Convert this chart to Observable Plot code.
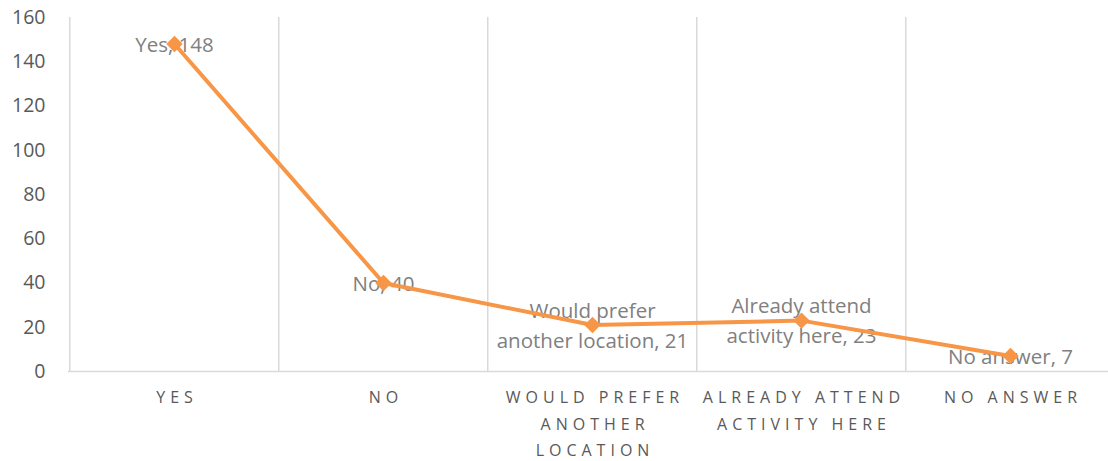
<!DOCTYPE html>
<html>
<head>
<meta charset="utf-8">
<script src="https://cdn.jsdelivr.net/npm/d3@7"></script>
<script src="https://cdn.jsdelivr.net/npm/@observablehq/plot@0.6"></script>
<style>
  html, body { margin: 0; padding: 0; background: #fff; }
  #chart svg { display: block; }
</style>
</head>
<body>
<div id="chart"></div>
<script>
const categories = ["Yes", "No", "Would prefer another location", "Already attend activity here", "No answer"];
const values = [148, 40, 21, 23, 7];
const axisLabels = ["YES", "NO", "WOULD PREFER\nANOTHER\nLOCATION", "ALREADY ATTEND\nACTIVITY HERE", "NO ANSWER"];
const dataLabels = ["Yes, 148", "No, 40", "Would prefer\nanother location, 21", "Already attend\nactivity here, 23", "No answer, 7"];
const yTicks = [0, 20, 40, 60, 80, 100, 120, 140, 160];

const data = categories.map((c, i) => ({cat: c, value: values[i], label: dataLabels[i]}));

const W = 1108, H = 461;
const left = 68, right = 1115.5;
const step = (right - left) / categories.length;

const chart = Plot.plot({
  width: W,
  height: H,
  marginLeft: left,
  marginRight: 0,
  marginTop: 17,
  marginBottom: 90,
  style: {fontFamily: "'Open Sans', sans-serif", background: "#fff", overflow: "visible"},
  x: {type: "point", domain: categories, range: [left, right], padding: 0.5, align: 0.5},
  y: {domain: [0, 160]},
  marks: [
    Plot.ruleX(categories, {x: d => d, y1: 0, y2: 160, stroke: "#d9d9d9", strokeWidth: 1.5, dx: -step / 2}),
    Plot.ruleY([0], {stroke: "#d9d9d9", strokeWidth: 1.5}),
    Plot.axisY({ticks: yTicks, tickSize: 0, tickPadding: 23, fontSize: 19.5, color: "#595959", label: null}),
    Plot.axisX({ticks: categories, tickSize: 0, tickPadding: 13, fontSize: 16, lineHeight: 1.66,
      tickFormat: (d) => axisLabels[categories.indexOf(d)], color: "#595959", label: null, dx: 2.5}),
    Plot.text(data, {x: "cat", y: "value", text: "label", fontSize: 20.5, lineHeight: 1.46, fill: "#808080", lineAnchor: "middle", dy: -2}),
    Plot.line(data, {x: "cat", y: "value", stroke: "#F79646", strokeWidth: 4}),
    Plot.dot(data, {x: "cat", y: "value", symbol: "diamond2", r: 7.4, fill: "#F79646", stroke: "none"})
  ]
});

d3.select(chart).selectAll('g[aria-label="x-axis tick label"] text').attr("letter-spacing", "5px");
d3.select(chart).selectAll('g[aria-label="x-axis tick label"]').attr("fill", "#595959");
d3.select(chart).selectAll('g[aria-label="y-axis tick label"]').attr("fill", "#595959");
document.getElementById("chart").appendChild(chart);
</script>
</body>
</html>
